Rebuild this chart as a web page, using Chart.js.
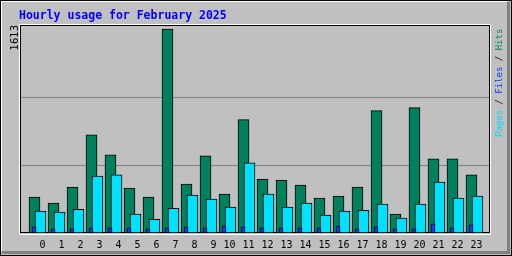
<!DOCTYPE html>
<html>
<head>
<meta charset="utf-8">
<script src="https://cdn.jsdelivr.net/npm/chart.js@4"></script>
<style>
  html, body { margin: 0; padding: 0; background: #c0c0c0; }
  #wrap { width: 512px; height: 256px; }
</style>
</head>
<body>
<div id="wrap"><canvas id="hourChart" width="512" height="256"></canvas></div>
<script>
const chartTitle = "Hourly usage for February 2025";
const hours = ["0","1","2","3","4","5","6","7","8","9","10","11","12","13","14","15","16","17","18","19","20","21","22","23"];
const hits  = [284,236,363,777,618,355,284,1613,387,610,308,896,427,419,379,276,292,363,968,149,991,586,586,459];
const pages = [173,165,188,451,459,149,109,196,300,268,204,554,308,204,236,141,173,180,228,117,228,403,276,292];
const files = [48,32,32,40,40,40,32,40,48,40,56,48,40,40,40,40,56,32,48,32,32,72,40,64];

const maxHits = Math.max(...hits);
const ctx = document.getElementById("hourChart").getContext("2d");

// bars sit side by side inside each hour, shift them a few pixels
const shiftBars = {
  id: 'shiftBars',
  afterDatasetsUpdate(chart){
    chart.data.datasets.forEach((ds, i)=>{
      chart.getDatasetMeta(i).data.forEach(el => { el.x += ds.shift; });
    });
  }
};

// webalizer style frames and texts
const frames = {
  id: 'frames',
  beforeDraw(chart){
    const c = chart.ctx;
    c.save();
    c.fillStyle = '#c0c0c0';
    c.fillRect(0, 0, 512, 256);
    c.fillStyle = '#808080';
    c.fillRect(507, 2, 3, 252);
    c.fillRect(2, 251, 508, 3);
    c.strokeStyle = '#000';
    c.lineWidth = 1;
    c.strokeRect(0.5, 0.5, 511, 255);
    c.fillStyle = '#fff';
    c.fillRect(1, 1, 506, 1);
    c.fillRect(1, 1, 1, 250);
    c.restore();
  },
  beforeDatasetsDraw(chart){
    const c = chart.ctx, a = chart.chartArea;
    c.save();
    c.strokeStyle = '#000';
    c.lineWidth = 1;
    c.strokeRect(a.left + 0.5, a.top + 0.5, a.right - a.left - 1, a.bottom - a.top - 1);
    c.strokeStyle = '#fff';
    c.beginPath();
    c.moveTo(a.left - 0.5, a.top - 0.5); c.lineTo(a.right + 0.5, a.top - 0.5);
    c.moveTo(a.left - 0.5, a.top - 0.5); c.lineTo(a.left - 0.5, a.bottom + 1.5);
    c.moveTo(a.left, a.bottom + 1.5); c.lineTo(a.right + 1, a.bottom + 1.5);
    c.moveTo(a.right + 0.5, a.top); c.lineTo(a.right + 0.5, a.bottom + 2);
    c.stroke();
    c.restore();
  },
  afterDraw(chart){
    const c = chart.ctx;
    c.save();
    c.font = 'bold 11.5px "DejaVu Sans Mono"';
    c.fillStyle = '#0000ff';
    c.textBaseline = 'alphabetic';
    c.fillText(chartTitle, 19, 19);

    // right side legend, read bottom to top
    const ds = chart.data.datasets;
    const parts = [
      [ds[1].label, ds[1].backgroundColor], [' / ', '#000'],
      [ds[0].label, ds[0].backgroundColor], [' / ', '#000'],
      [ds[2].label, ds[2].backgroundColor]
    ];
    c.translate(502, 137);
    c.rotate(-Math.PI/2);
    c.font = '9px "DejaVu Sans Mono"';
    let x = 0;
    parts.forEach(([t, col])=>{
      c.fillStyle = col;
      c.fillText(t, x, 0);
      x += c.measureText(t).width;
    });
    c.restore();
  }
};

const xy = arr => arr.map((v, i) => ({x: i, y: v}));

new Chart(ctx, {
  type: 'bar',
  data: {
    datasets: [
      {label:'Files', data: xy(files), backgroundColor:'#0040ff', borderColor:'#000', borderWidth:1,
       borderSkipped:false, barThickness:4, shift:-3.5},
      {label:'Pages', data: xy(pages), backgroundColor:'#00e0ff', borderColor:'#000', borderWidth:1,
       borderSkipped:false, barThickness:11, shift:3},
      {label:'Hits', data: xy(hits), backgroundColor:'#00805c', borderColor:'#000', borderWidth:1,
       borderSkipped:false, barThickness:11, shift:-3}
    ]
  },
  options: {
    responsive: false,
    animation: false,
    layout: { padding: { left:0, right:22, top:25, bottom:0 } },
    plugins: { legend:{display:false}, tooltip:{enabled:false}, title:{display:false} },
    datasets: { bar: { grouped:false } },
    scales: {
      x: {
        type: 'linear',
        offset: false,
        min: -17.5/19,
        max: -17.5/19 + 470/19,
        afterFit: s => { s.height = 23; },
        afterBuildTicks: s => { s.ticks = hours.map((h, i) => ({value: i})); },
        ticks: { callback: v => hours[v], autoSkip:false, maxRotation:0, padding:6,
                 align:'end', labelOffset:8,
                 color:'#000', font:{family:'DejaVu Sans Mono', size:10} },
        grid: { display:false, drawTicks:false },
        border: { display:false }
      },
      y: {
        min: 0,
        max: maxHits * 208 / 204,
        afterFit: s => { s.width = 20; },
        afterBuildTicks: s => { s.ticks = [1, 2].map(k => ({value: maxHits * k / 3})); },
        ticks: { display:false },
        grid: { color:'#808080', lineWidth:1, drawTicks:false },
        border: { display:false },
        title: { display:true, text:String(maxHits), align:'end', color:'#000',
                 font:{family:'DejaVu Sans', size:10}, padding:{top:9, bottom:0} }
      }
    }
  },
  plugins: [shiftBars, frames]
});
</script>
</body>
</html>
